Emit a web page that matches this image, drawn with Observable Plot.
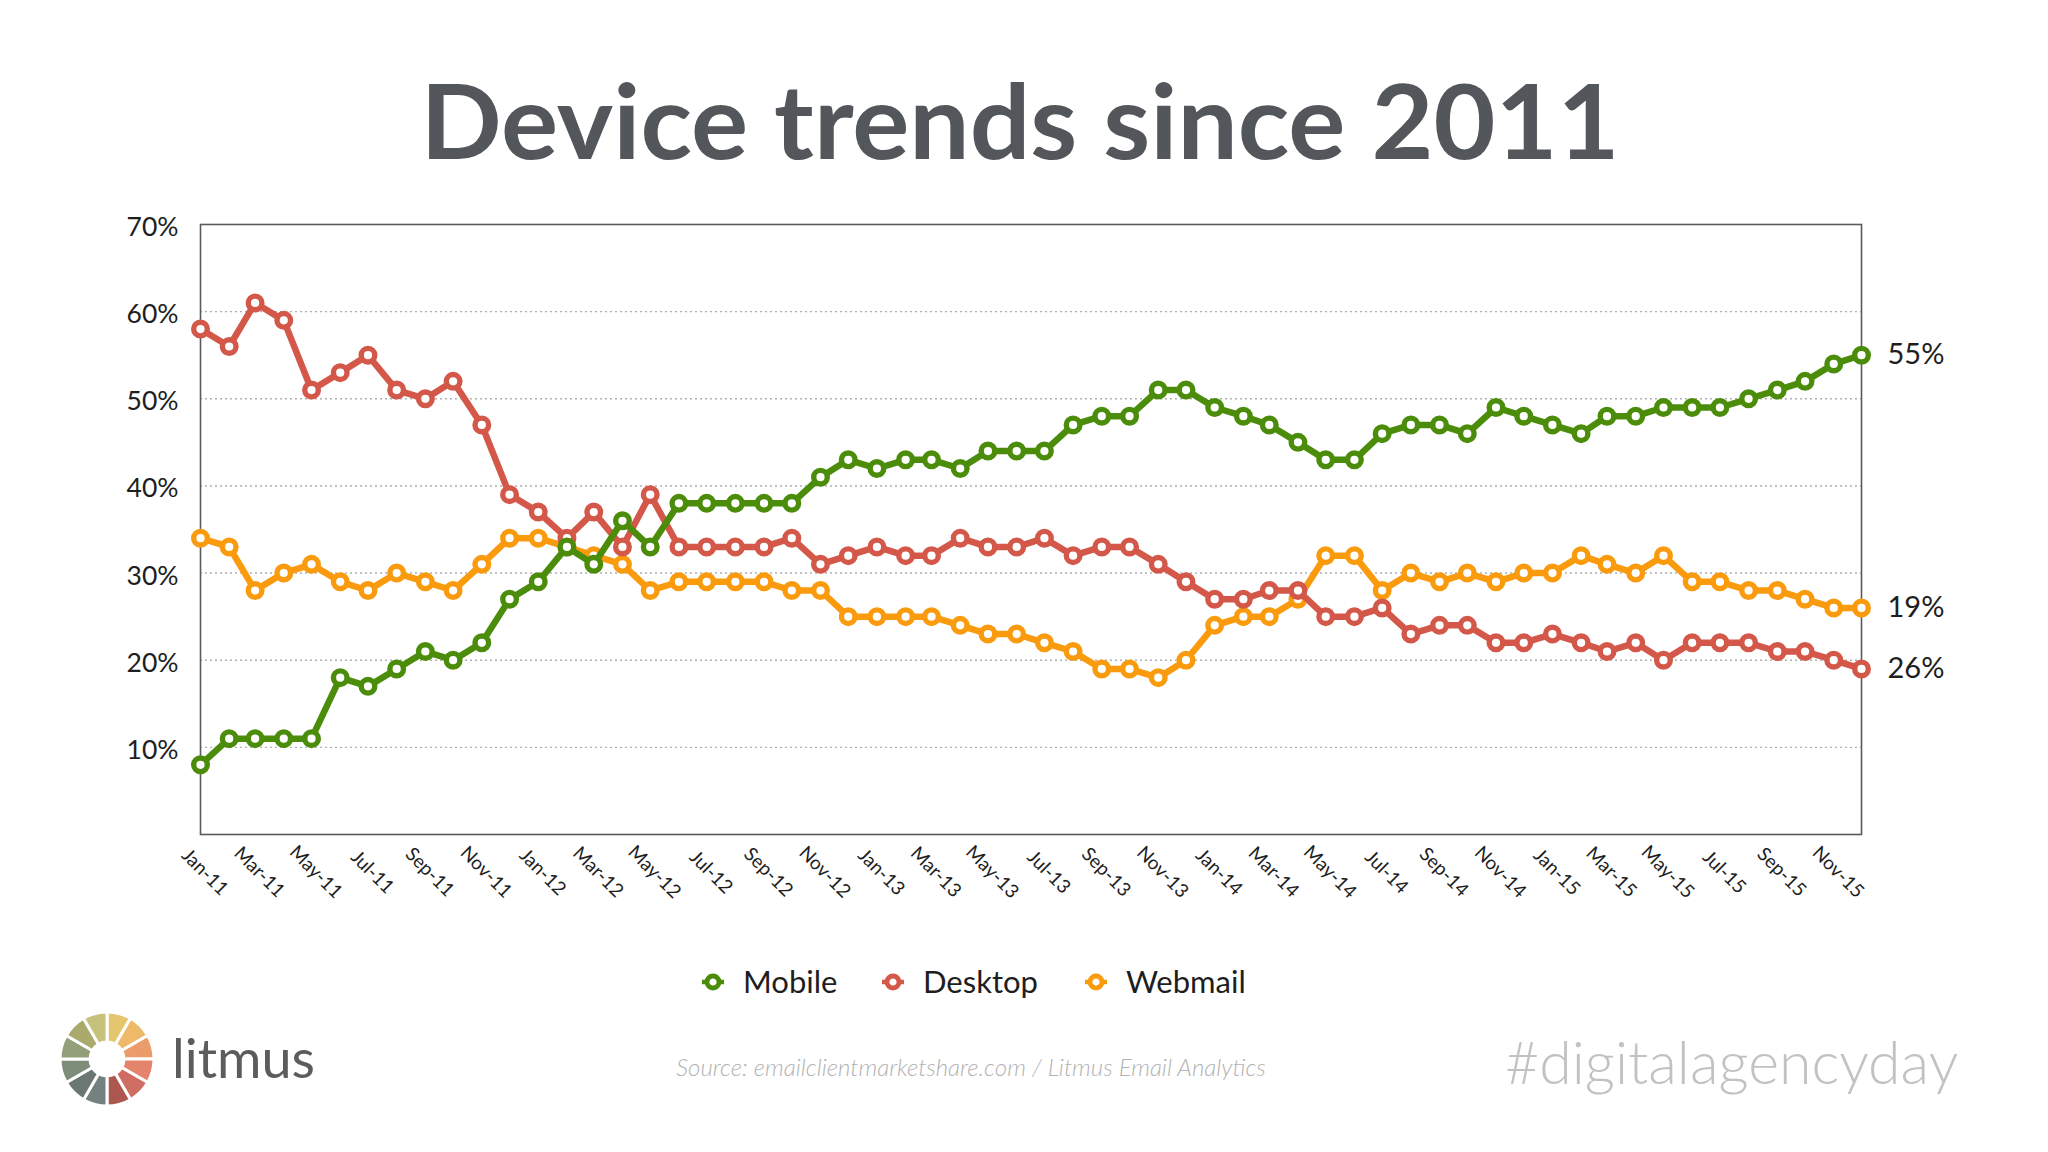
<!DOCTYPE html>
<html>
<head>
<meta charset="utf-8">
<script src="https://cdn.jsdelivr.net/npm/d3@7"></script>
<script src="https://cdn.jsdelivr.net/npm/@observablehq/plot@0.6"></script>
<style>
  html, body { margin: 0; padding: 0; background: #ffffff; }
  #page { position: relative; width: 2048px; height: 1152px; overflow: hidden; background: #ffffff; font-family: Lato, "Open Sans", sans-serif; }
  #overlay { position: absolute; left: 0; top: 0; }
  #chart { position: absolute; left: 0; top: 180px; }
</style>
</head>
<body>
<div id="page">
  <svg id="overlay" width="2048" height="1152"></svg>
  <div id="chart"></div>
</div>
<script>
// ---------------- data ----------------
const seriesNames = ["Mobile", "Desktop", "Webmail"];
const seriesColors = ["#4b8d0b", "#d4584a", "#fa9a0d"];
const firstMonth = "2011-01-01";
const lastMonthExclusive = "2016-01-01";

const mobile  = [8,11,11,11,11,18,17,19,21,20,22,27,29,33,31,36,33,38,38,38,38,38,41,43,42,43,43,42,44,44,44,47,48,48,51,51,49,48,47,45,43,43,46,47,47,46,49,48,47,46,48,48,49,49,49,50,51,52,54,55];
const desktop = [58,56,61,59,51,53,55,51,50,52,47,39,37,34,37,33,39,33,33,33,33,34,31,32,33,32,32,34,33,33,34,32,33,33,31,29,27,27,28,28,25,25,26,23,24,24,22,22,23,22,21,22,20,22,22,22,21,21,20,19];
const webmail = [34,33,28,30,31,29,28,30,29,28,31,34,34,33,32,31,28,29,29,29,29,28,28,25,25,25,25,24,23,23,22,21,19,19,18,20,24,25,25,27,32,32,28,30,29,30,29,30,30,32,31,30,32,29,29,28,28,27,26,26];

const xTickLabels = ["Jan-11","Mar-11","May-11","Jul-11","Sep-11","Nov-11",
  "Jan-12","Mar-12","May-12","Jul-12","Sep-12","Nov-12",
  "Jan-13","Mar-13","May-13","Jul-13","Sep-13","Nov-13",
  "Jan-14","Mar-14","May-14","Jul-14","Sep-14","Nov-14",
  "Jan-15","Mar-15","May-15","Jul-15","Sep-15","Nov-15"];
const yTicks = [10, 20, 30, 40, 50, 60, 70];
const yGrid = [10, 20, 30, 40, 50, 60];
// end-of-line labels exactly as printed in the source chart
const endLabels = ["55%", "26%", "19%"]; // Mobile, Desktop, Webmail

const titleText = "Device trends since 2011";
const sourceText = "Source: emailclientmarketshare.com / Litmus Email Analytics";
const hashtagText = "#digitalagencyday";
const brandText = "litmus";

// ---------------- build ----------------
const months = d3.utcMonth.range(new Date(firstMonth), new Date(lastMonthExclusive));
const valuesBySeries = { Mobile: mobile, Desktop: desktop, Webmail: webmail };
const colorOf = Object.fromEntries(seriesNames.map((s, i) => [s, seriesColors[i]]));
const rows = seriesNames.flatMap(s => valuesBySeries[s].map((v, i) => ({ series: s, date: months[i], value: v })));
const parseTick = d3.utcParse("%b-%y");
const endRows = seriesNames.map((s, i) => {
  const vals = valuesBySeries[s];
  return { series: s, date: months[vals.length - 1], value: vals[vals.length - 1], label: endLabels[i] };
});

const drawOrder = ["Webmail", "Desktop", "Mobile"];
const seriesMarks = drawOrder.flatMap(s => {
  const d = rows.filter(r => r.series === s);
  return [
    Plot.line(d, { x: "date", y: "value", stroke: colorOf[s], strokeWidth: 6.5, strokeLinejoin: "round" }),
    Plot.dot(d, { x: "date", y: "value", r: 6.8, stroke: colorOf[s], strokeWidth: 5.4, fill: "white" })
  ];
});

const chart = Plot.plot({
  width: 2048,
  height: 760,
  marginLeft: 200,
  marginRight: 187,
  marginTop: 44,
  marginBottom: 106,
  x: { type: "utc", domain: [months[0], months[months.length - 1]], axis: null },
  y: { domain: [0, 70], axis: null },
  style: { fontFamily: "Lato, 'Open Sans', sans-serif", background: "transparent", overflow: "visible" },
  marks: [
    Plot.ruleY(yGrid, { stroke: "#b0b0b0", strokeWidth: 1.4, strokeDasharray: "2,3" }),
    Plot.frame({ stroke: "#5a5a5a", strokeWidth: 1.6 }),
    Plot.axisY({ ticks: yTicks, tickSize: 0, tickPadding: 22, tickFormat: d => d + "%", fontSize: 26.5, color: "#1e1e1e", dy: 3, label: null }),
    Plot.text(xTickLabels, { x: d => parseTick(d), text: d => d, frameAnchor: "bottom", dy: 42, rotate: 45, textAnchor: "middle", fontSize: 19, fill: "#1e1e1e" }),
    ...seriesMarks,
    Plot.text(endRows, { x: "date", y: "value", text: "label", dx: 26, textAnchor: "start", fontSize: 29, fill: "#1e1e1e" })
  ]
});
document.getElementById("chart").appendChild(chart);

// ---------------- overlay: title, legend, footer ----------------
const ov = d3.select("#overlay");
const FF = "Lato, 'Open Sans', sans-serif";

ov.append("text")
  .attr("x", 1020).attr("y", 159)
  .attr("text-anchor", "middle")
  .attr("font-family", FF).attr("font-weight", 700).attr("font-size", 104)
  .attr("fill", "#53575b")
  .attr("textLength", 1199).attr("lengthAdjust", "spacingAndGlyphs")
  .text(titleText);

// legend
const legendX = [713, 893, 1096];
const legendY = 982;
seriesNames.forEach((s, i) => {
  const g = ov.append("g").attr("transform", `translate(${legendX[i]},${legendY})`);
  g.append("line").attr("x1", -11).attr("x2", 11).attr("stroke", colorOf[s]).attr("stroke-width", 4.5);
  g.append("circle").attr("r", 6).attr("fill", "white").attr("stroke", colorOf[s]).attr("stroke-width", 4.8);
  g.append("text").attr("x", 30).attr("y", 0).attr("dy", "0.36em")
    .attr("font-family", FF).attr("font-size", 31).attr("fill", "#1e1e1e")
    .text(s);
});

// source
ov.append("text")
  .attr("x", 971).attr("y", 1068).attr("dy", "0.35em")
  .attr("text-anchor", "middle")
  .attr("font-family", FF).attr("font-style", "italic").attr("font-weight", 300).attr("font-size", 24)
  .attr("fill", "#b2b2b2")
  .text(sourceText);

// hashtag
ov.append("text")
  .attr("x", 1505).attr("y", 1084)
  .attr("font-family", FF).attr("font-weight", 300).attr("font-size", 59)
  .attr("fill", "#c2c2c6")
  .text(hashtagText);

// litmus logo wheel
const wheelColors = ["#e4c66e", "#eeb968", "#eb9c6b", "#e5846c", "#d06d63", "#ad5751",
                     "#75817f", "#6b7772", "#7e8c7a", "#939f78", "#a9aa6c", "#c7c27b"];
const arc = d3.arc().innerRadius(17).outerRadius(47);
const pie = d3.pie().sort(null).value(1);
const wheel = ov.append("g").attr("transform", "translate(107,1059)");
wheel.selectAll("path").data(pie(wheelColors)).join("path")
  .attr("d", arc).attr("fill", (d, i) => wheelColors[i])
  .attr("stroke", "white").attr("stroke-width", 3);

ov.append("text")
  .attr("x", 172).attr("y", 1078)
  .attr("font-family", FF).attr("font-weight", 400).attr("font-size", 54)
  .attr("fill", "#5b5c5e")
  .text(brandText);
</script>
</body>
</html>
